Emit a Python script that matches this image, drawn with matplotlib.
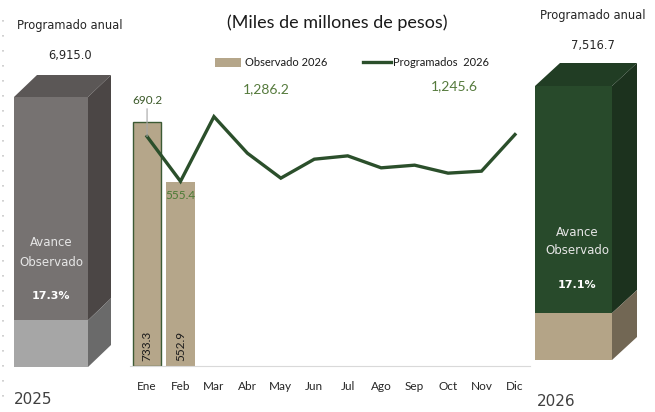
import matplotlib
matplotlib.use("Agg")
import matplotlib.pyplot as plt
from matplotlib.patches import Polygon, Rectangle

# monthly data (miles de millones de pesos)
meses = ["Ene", "Feb", "Mar", "Abr", "May", "Jun", "Jul", "Ago", "Sep", "Oct", "Nov", "Dic"]
observado_2026 = [733.3, 552.9]
programados_2026 = [690.2, 555.4, 750.0, 640.0, 565.0, 622.0, 632.0, 596.0, 604.0, 580.0, 586.0, 696.1]

# annual boxes
anual_2025 = 6915.0
avance_2025 = 17.3
anual_2026 = 7516.7

W, H = 655, 412


def fx(px):
    return px / W


def fy(py):
    return 1 - py / H


fig = plt.figure(figsize=(W / 100, H / 100), dpi=100)
fig.patch.set_facecolor("white")

# ---- background overlay for the 3D boxes (pixel coords)
bg = fig.add_axes([0, 0, 1, 1])
bg.set_xlim(0, W)
bg.set_ylim(H, 0)
bg.axis("off")


def box(x0, ytop, w, h, dx, dy, frac, c_front, c_low, c_side, c_side_low, c_top):
    ybot = ytop + h
    ysplit = ybot - frac * h
    bg.add_patch(Polygon([(x0, ytop), (x0 + dx, ytop - dy), (x0 + w + dx, ytop - dy), (x0 + w, ytop)],
                         closed=True, fc=c_top, ec="none"))
    bg.add_patch(Rectangle((x0, ytop), w, ysplit - ytop, fc=c_front, ec="none"))
    bg.add_patch(Rectangle((x0, ysplit), w, ybot - ysplit, fc=c_low, ec="none"))
    bg.add_patch(Polygon([(x0 + w, ytop), (x0 + w + dx, ytop - dy), (x0 + w + dx, ysplit - dy), (x0 + w, ysplit)],
                         closed=True, fc=c_side, ec="none"))
    bg.add_patch(Polygon([(x0 + w, ysplit), (x0 + w + dx, ysplit - dy), (x0 + w + dx, ybot - dy), (x0 + w, ybot)],
                         closed=True, fc=c_side_low, ec="none"))


obs_total = sum(observado_2026)
prog_acum = sum(programados_2026[:len(observado_2026)])
avance_2026 = obs_total / anual_2026 * 100

box(14, 97, 74, 270, 23, 22, avance_2025 / 100,
    "#767271", "#a6a6a6", "#4b4645", "#6a6a6a", "#5b5756")
box(535, 86, 77, 274, 25, 23, avance_2026 / 100,
    "#284a2b", "#b4a487", "#1c321e", "#726754", "#213d24")

# faint dotted line at the left edge
bg.plot([3, 3], [20, 400], color="#c8c8c8", lw=1.2, ls=(0, (1, 8)))

side_font = "DejaVu Sans"
for cx, anual, anio, ax_x, y0, ya in [(70, anual_2025, "2025", 14, 25, 400),
                                       (593, anual_2026, "2026", 537, 15, 401)]:
    fig.text(fx(cx), fy(y0), "Programado anual", ha="center", va="center",
             fontsize=8.3, family=side_font, color="#262626")
    fig.text(fx(cx), fy(y0 + 30), f"{anual:,.1f}", ha="center", va="center",
             fontsize=8.3, family=side_font, color="#262626")
    fig.text(fx(ax_x), fy(ya), anio, ha="left", va="center",
             fontsize=11, family=side_font, color="#404040")

for cx, ya, pct in [(51, 243, avance_2025), (577, 232, avance_2026)]:
    fig.text(fx(cx), fy(ya), "Avance", ha="center", va="center",
             fontsize=8.5, family=side_font, color="#e6e6e6")
    fig.text(fx(cx), fy(ya + 19), "Observado", ha="center", va="center",
             fontsize=8.5, family=side_font, color="#e6e6e6")
    fig.text(fx(cx), fy(ya + 53), f"{pct:.1f}%", ha="center", va="center",
             fontsize=8, family=side_font, color="white", weight="bold")

# ---- main chart
ax = fig.add_axes([fx(130), fy(366), fx(530) - fx(130), (366 - 100) / H])
x = list(range(len(meses)))
bar_c = "#b5a68a"
line_c = "#2b4f2b"
bars = ax.bar(x[:len(observado_2026)], observado_2026, width=0.85, color=bar_c, zorder=2)
bars[0].set_edgecolor("#3c5a34")
bars[0].set_linewidth(1.0)
ax.plot(x, programados_2026, color=line_c, lw=2.4, zorder=3, solid_joinstyle="miter")

ax.set_xlim(-0.51, 11.45)
ax.set_ylim(0, 800)
for s in ["top", "right", "left"]:
    ax.spines[s].set_visible(False)
ax.spines["bottom"].set_color("#d9d9d9")
ax.set_yticks([])
ax.set_xticks(x)
ax.set_xticklabels(meses, family="Lato", fontsize=8.5, color="#262626")
ax.tick_params(axis="x", length=0, pad=11)

for i, v in enumerate(observado_2026):
    ax.text(i, 15, f"{v:.1f}", rotation=90, ha="center", va="bottom",
            fontsize=8.5, family="Lato", color="#1a1a1a", zorder=4)

ax.annotate(f"{programados_2026[0]:.1f}", xy=(0, programados_2026[0]), xytext=(0, 22),
            textcoords="offset points", ha="center", va="bottom", fontsize=8.5,
            family="Lato", color="#3c5a2a",
            arrowprops=dict(arrowstyle="-", color="#a6a6a6", lw=0.8, shrinkA=0, shrinkB=0))
ax.text(1, programados_2026[1] - 25, f"{programados_2026[1]:.1f}", ha="center", va="top",
        fontsize=8.5, family="Lato", color="#4a7a34", zorder=4)

# title, legend and totals
fig.text(fx(337), fy(23), "(Miles de millones de pesos)", ha="center", va="center",
         fontsize=13, family="Lato", color="#1a1a1a")
bg.add_patch(Rectangle((215, 58), 26, 9, fc=bar_c, ec="none"))
fig.text(fx(245), fy(62), "Observado 2026", ha="left", va="center",
         fontsize=8, family="Lato", color="#1a1a1a")
bg.plot([363, 391], [62, 62], color=line_c, lw=2.4)
fig.text(fx(393), fy(62), "Programados  2026", ha="left", va="center",
         fontsize=8, family="Lato", color="#1a1a1a")
fig.text(fx(266), fy(89), f"{obs_total:,.1f}", ha="center", va="center",
         fontsize=10, family="Lato", color="#557a3c")
fig.text(fx(454), fy(86), f"{prog_acum:,.1f}", ha="center", va="center",
         fontsize=10, family="Lato", color="#557a3c")

fig.savefig("out.png", dpi=100)
